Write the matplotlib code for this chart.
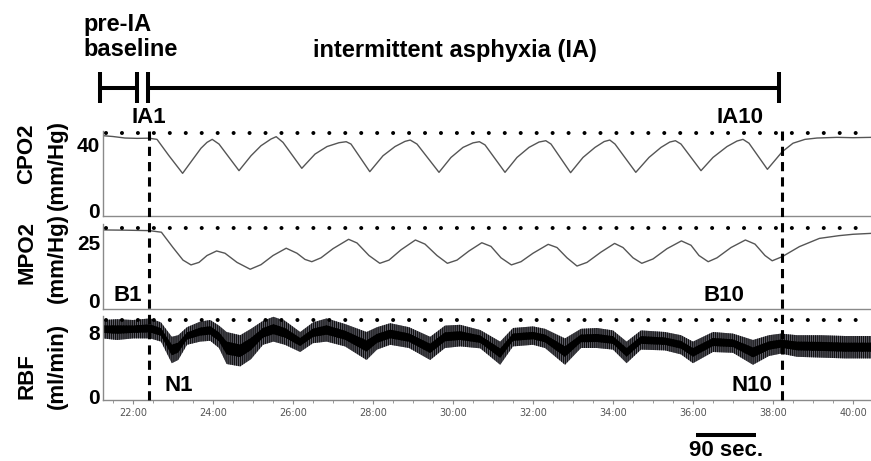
import matplotlib
matplotlib.use('Agg')
import matplotlib.pyplot as plt
from matplotlib.ticker import MultipleLocator

plt.rcParams['font.family'] = ['Liberation Sans', 'DejaVu Sans']
plt.rcParams['hatch.linewidth'] = 0.9

W, H = 871, 461

# ---------------- data (minutes of recording) ----------------
cpo2_t = [21.25, 21.5, 21.8, 22.1, 22.4, 22.6, 22.9, 23.24, 23.5, 23.7, 23.85, 23.98, 24.15,
          24.65, 24.95, 25.2, 25.45, 25.58, 25.75, 26.22, 26.55, 26.85, 27.15, 27.33, 27.45, 27.92,
          28.25, 28.55, 28.8, 28.93, 29.1, 29.65, 29.95, 30.25, 30.5, 30.66, 30.8, 31.30, 31.6,
          31.9, 32.15, 32.32, 32.45, 32.94, 33.25, 33.55, 33.78, 33.92, 34.05, 34.57, 34.9, 35.2,
          35.42, 35.56, 35.7, 36.20, 36.5, 36.85, 37.1, 37.25, 37.4, 37.86, 38.23, 38.5, 38.8,
          39.1, 39.6, 40.0, 40.45]
cpo2_v = [45.0, 44.5, 43.6, 43.4, 43.5, 42.8, 33.0, 22.5, 31.0, 37.5, 41.0, 42.8, 40.0,
          24.1, 33.0, 39.0, 43.0, 44.4, 41.0, 25.5, 34.0, 38.5, 40.8, 41.4, 40.0, 23.5,
          33.0, 38.5, 41.6, 42.4, 40.0, 23.1, 32.0, 38.0, 40.7, 41.4, 39.5, 23.1, 32.0,
          38.0, 41.2, 42.0, 40.0, 22.9, 32.0, 38.0, 41.5, 42.4, 40.0, 23.1, 32.0, 38.0,
          41.2, 42.0, 40.0, 24.1, 32.0, 38.5, 41.8, 42.8, 40.5, 24.9, 35.4, 40.5, 42.8,
          43.6, 44.0, 43.8, 44.0]

mpo2_t = [21.25, 21.8, 22.41, 22.71, 23.0, 23.25, 23.45, 23.65, 23.85, 24.09, 24.3,
          24.6, 24.93, 25.2, 25.5, 25.83, 26.1, 26.3, 26.47, 26.7, 27.0, 27.39, 27.6,
          27.9, 28.17, 28.4, 28.7, 29.06, 29.3, 29.6, 29.86, 30.1, 30.4, 30.72, 30.95,
          31.2, 31.46, 31.7, 32.0, 32.38, 32.6, 32.85, 33.10, 33.35, 33.7, 34.04,
          34.25, 34.5, 34.72, 35.0, 35.35, 35.71, 35.95, 36.15, 36.38, 36.6, 36.95,
          37.31, 37.55, 37.8, 37.98, 38.23, 38.66, 39.16, 39.65, 40.0, 40.45]
mpo2_v = [30.7, 30.6, 30.4, 29.7, 23.0, 17.5, 15.4, 16.5, 19.5, 21.5, 20.5,
          16.5, 13.5, 15.5, 19.5, 22.7, 20.5, 17.8, 16.8, 18.5, 22.5, 26.6, 25.0,
          19.5, 16.1, 17.5, 22.0, 26.3, 24.5, 19.5, 16.1, 17.5, 21.5, 25.1, 23.5,
          18.5, 15.4, 16.8, 20.5, 24.4, 23.0, 18.5, 14.9, 16.5, 21.0, 24.8,
          23.0, 18.5, 16.1, 18.0, 22.5, 25.9, 24.0, 19.5, 16.8, 18.5, 23.0,
          26.3, 24.5, 19.5, 17.2, 19.0, 23.4, 27.0, 28.2, 28.8, 29.2]

rbf_t = [21.25, 21.6, 22.0, 22.43, 22.7, 22.97, 23.13, 23.35, 23.68, 23.93, 24.15,
         24.34, 24.68, 24.95, 25.25, 25.51, 25.8, 26.18, 26.5, 26.84, 27.3, 27.84,
         28.1, 28.43, 28.9, 29.43, 29.8, 30.18, 30.68, 31.18, 31.5, 32.0, 32.3,
         32.8, 33.2, 33.6, 34.0, 34.34, 34.7, 35.3, 35.7, 36.0, 36.5, 37.0, 37.5,
         37.9, 38.2, 38.6, 39.2, 39.8, 40.45]
rbf_hi = [9.5, 9.6, 9.5, 9.7, 9.2, 7.4, 7.6, 8.6, 9.3, 9.5, 8.8,
          8.0, 7.6, 8.4, 9.4, 9.9, 9.4, 8.0, 9.2, 9.7, 9.0, 8.0,
          8.6, 9.1, 8.6, 7.4, 8.8, 8.9, 8.25, 6.8, 8.5, 8.7, 8.4,
          7.2, 8.4, 8.5, 8.2, 6.8, 8.2, 8.0, 7.6, 6.8, 8.0, 7.8, 7.0,
          7.6, 7.8, 7.6, 7.6, 7.5, 7.5]
rbf_lo = [7.2, 7.0, 7.2, 7.2, 6.8, 4.1, 4.5, 6.4, 6.8, 6.9, 6.0,
          4.0, 3.7, 4.6, 6.4, 6.8, 6.4, 5.5, 6.6, 6.8, 6.2, 4.5,
          5.8, 6.4, 6.0, 4.5, 6.0, 6.2, 5.96, 3.9, 6.2, 6.4, 6.0,
          3.9, 6.0, 6.0, 5.8, 4.1, 5.8, 5.7, 5.2, 4.1, 5.5, 5.4, 3.9,
          5.0, 5.3, 4.9, 4.8, 4.7, 4.7]

tick_min = [22, 24, 26, 28, 30, 32, 34, 36, 38, 40]
tick_lab = ['22:00', '24:00', '26:00', '28:00', '30:00', '32:00', '34:00',
            '36:00', '38:00', '40:00']

baseline_start, baseline_end = 21.175, 22.1
ia_start, ia_end = 22.375, 38.15
ia1_line, ia10_line = 22.4, 38.22
scale_bar_min = 1.5   # 90 sec

# ---------------- figure ----------------
fig = plt.figure(figsize=(W / 100, H / 100), dpi=100)


def px_axes(left, top, right, bottom, **kw):
    return fig.add_axes([left / W, 1 - bottom / H, (right - left) / W, (bottom - top) / H], **kw)


XL = (21.25, 40.45)
GRAY = '#8a8a8a'


def style(ax, ylim, yticks):
    ax.set_xlim(*XL)
    ax.set_ylim(*ylim)
    for s in ('top', 'right'):
        ax.spines[s].set_visible(False)
    for s in ('left', 'bottom'):
        ax.spines[s].set_color(GRAY)
        ax.spines[s].set_linewidth(1.0)
    ax.set_yticks(yticks)
    ax.set_yticklabels([str(v) for v in yticks], fontsize=15, fontweight='bold')
    ax.tick_params(axis='y', length=0, pad=2)
    ax.patch.set_alpha(0)


ax1 = px_axes(103, 131, 871, 216.5)
style(ax1, (-3.3, 47.8), [0, 40])
ax1.plot(cpo2_t, cpo2_v, color='#555555', lw=1.0)
ax1.set_xticks([])

ax2 = px_axes(103, 224, 871, 309)
style(ax2, (-3.9, 33.3), [0, 25])
ax2.plot(mpo2_t, mpo2_v, color='#555555', lw=1.0)
ax2.set_xticks([])

ax3 = px_axes(103, 316, 871, 400)
style(ax3, (-0.5, 10.0), [0, 8])
ax3.fill_between(rbf_t, rbf_lo, rbf_hi, facecolor='#6e6e7a', edgecolor='#111111',
                 hatch='||||||||', lw=0)
core_lo = [l + 0.3 * (h - l) for l, h in zip(rbf_lo, rbf_hi)]
core_hi = [h - 0.3 * (h - l) for l, h in zip(rbf_lo, rbf_hi)]
ax3.fill_between(rbf_t, core_lo, core_hi, facecolor='#000000', edgecolor='#000000',
                 hatch='||||||', lw=0)
ax3.set_xticks(tick_min)
ax3.set_xticklabels(tick_lab, fontsize=7, color='#555555', family='DejaVu Sans')
ax3.xaxis.set_minor_locator(MultipleLocator(0.5))
ax3.tick_params(axis='x', which='major', length=3, color=GRAY, pad=3)
ax3.tick_params(axis='x', which='minor', length=2, color=GRAY)

# ---------------- overlay ----------------
ov = px_axes(0, 0, 871, 461)
ov.set_xlim(21.25 - 103 / 40, 21.25 + 768 / 40)
ov.set_ylim(461, 0)
ov.axis('off')
ov.patch.set_alpha(0)

dot_ls = (0, (0.01, 3.95))
for yy in (133, 228, 320):
    ov.plot([21.33, XL[1]], [yy, yy], color='black', lw=2.9, ls=dot_ls,
            dash_capstyle='round', solid_capstyle='round')

dash_ls = (0, (3.0, 2.0))
for tx in (ia1_line, ia10_line):
    ov.plot([tx, tx], [131, 400], color='black', lw=2.2, ls=dash_ls)

# timeline
tl_lw = 2.9
ov.plot([baseline_start, baseline_end], [88, 88], color='black', lw=tl_lw, solid_capstyle='butt')
ov.plot([ia_start, ia_end], [88, 88], color='black', lw=tl_lw, solid_capstyle='butt')
for tx in (baseline_start, baseline_end, ia_start, ia_end):
    ov.plot([tx, tx], [72, 103], color='black', lw=tl_lw, solid_capstyle='butt')

bold = dict(fontweight='bold', color='black')
ov.text(21.25 - 20 / 40, 24, 'pre-IA', fontsize=17, ha='left', va='center', **bold)
ov.text(21.25 - 20 / 40, 50, 'baseline', fontsize=17, ha='left', va='center', **bold)
ov.text(21.25 + 352 / 40, 50, 'intermittent asphyxia (IA)', fontsize=17, ha='center', va='center', **bold)
ov.text(21.25 + 46 / 40, 117, 'IA1', fontsize=16, ha='center', va='center', **bold)
ov.text(21.25 + 637 / 40, 117, 'IA10', fontsize=16, ha='center', va='center', **bold)
ov.text(21.25 + 25 / 40, 295, 'B1', fontsize=16, ha='center', va='center', **bold)
ov.text(21.25 + 621 / 40, 295, 'B10', fontsize=16, ha='center', va='center', **bold)
ov.text(21.25 + 76 / 40, 385, 'N1', fontsize=16, ha='center', va='center', **bold)
ov.text(21.25 + 649 / 40, 385, 'N10', fontsize=16, ha='center', va='center', **bold)

# y labels
for txt, xx, yy in [('CPO2', 27, 154), ('(mm/Hg)', 57, 165),
                    ('MPO2', 27, 252), ('(mm/Hg)', 57, 258),
                    ('RBF', 27, 376), ('(ml/min)', 57, 366)]:
    ov.text(21.25 + (xx - 103) / 40, yy, txt, fontsize=16, rotation=90,
            ha='center', va='center', **bold)

# scale bar
sb_c = 36.825
ov.plot([sb_c - scale_bar_min / 2, sb_c + scale_bar_min / 2], [435, 435], color='black',
        lw=2.9, solid_capstyle='butt')
ov.text(sb_c, 450, '90 sec.', fontsize=16, ha='center', va='center', **bold)

fig.savefig('out.png', dpi=100)
